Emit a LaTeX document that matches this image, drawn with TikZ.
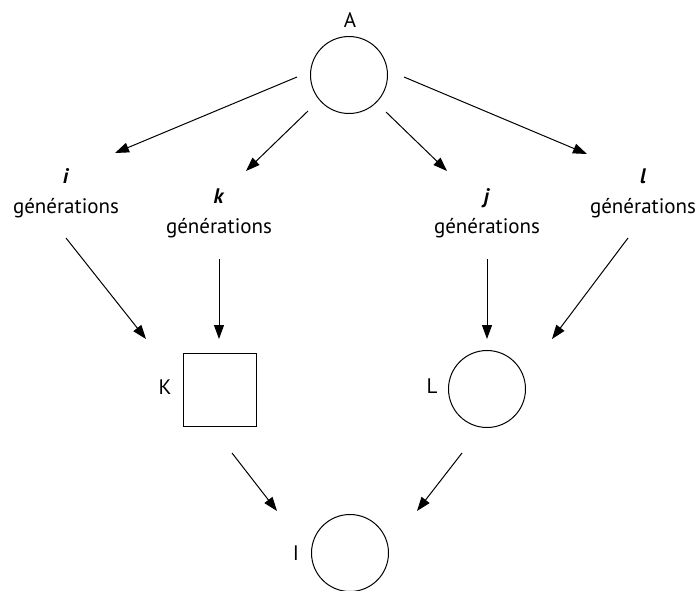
\documentclass[tikz,border=0pt]{standalone}
\usepackage{fontspec}
\setmainfont{PT Sans}
\usetikzlibrary{arrows.meta}

\tikzset{
	    individu/.style={
					circle,
					draw,
					line width=1pt,
					minimum size=77pt,
					inner sep=0pt
	    },
	    carre/.style={
					rectangle,
					draw,
					line width=1pt,
					minimum size=73pt,
					inner sep=0pt
	    },
	    lettre/.style={inner sep=0pt, font=\fontsize{21}{25}\selectfont},
	    gens/.style={align=center, inner sep=0pt, font=\fontsize{21}{30}\selectfont},
	    fleche/.style={line width=1pt, -{Triangle[length=14pt,width=10pt]}}
		}

\begin{document}
\begin{tikzpicture}[x=1pt, y=-1pt]
			\useasboundingbox (0,0) rectangle (699,590);

			% ancetre commun
			\node[individu] (A) at (349,75) {};
			\node[lettre] (labA) at (350,20) {A};

			% generations
			\node[gens] (gi) at (66,193) {\textbf{\textit{i}}\\générations};
			\node[gens] (gk) at (219,213) {\textbf{\textit{k}}\\générations};
			\node[gens] (gj) at (487,213) {\textbf{\textit{j}}\\générations};
			\node[gens] (gl) at (643,193) {\textbf{\textit{l}}\\générations};

			% parents et enfant
			\node[carre] (K) at (219.5,389.5) {};
			\node[lettre] (labK) at (165,387) {K};
			\node[individu] (L) at (487,389) {};
			\node[lettre] (labL) at (432,386) {L};
			\node[individu] (I) at (350,553) {};
			\node[lettre] (labI) at (296,553) {I};

			% extremites des fleches
			\coordinate (Ai) at (297,77);
			\coordinate (Ak) at (308,111);
			\coordinate (Aj) at (386,112);
			\coordinate (Al) at (404,77);
			\coordinate (ti) at (115,153);
			\coordinate (tk) at (246,171);
			\coordinate (tj) at (447,171);
			\coordinate (tl) at (587,154);
			\coordinate (Ki) at (146,339);
			\coordinate (Kk) at (219,339);
			\coordinate (Lj) at (487,339);
			\coordinate (Ll) at (552,339);
			\coordinate (IK) at (277,511);
			\coordinate (IL) at (417,511);

			\draw[fleche] (Ai) -- (ti);
			\draw[fleche] (Ak) -- (tk);
			\draw[fleche] (Aj) -- (tj);
			\draw[fleche] (Al) -- (tl);

			\draw[fleche] (66,238) -- (Ki);
			\draw[fleche] (gk.south |- 0,259) -- (Kk);
			\draw[fleche] (gj.south |- 0,259) -- (Lj);
			\draw[fleche] (628,238) -- (Ll);

			\draw[fleche] (232,453) -- (IK);
			\draw[fleche] (462,453) -- (IL);
		\end{tikzpicture}
\end{document}
